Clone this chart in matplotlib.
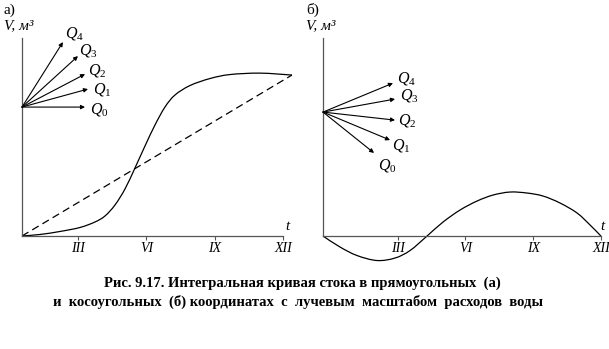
import matplotlib
matplotlib.use('Agg')
import matplotlib.pyplot as plt
from matplotlib.path import Path
from matplotlib.patches import PathPatch

W, H = 609, 349
plt.rcParams['font.family'] = ['Liberation Serif', 'DejaVu Serif']
plt.rcParams['mathtext.fontset'] = 'custom'
plt.rcParams['mathtext.it'] = 'Liberation Serif:italic'
plt.rcParams['mathtext.rm'] = 'Liberation Serif'

tick_months = [3, 6, 9, 12]
tick_labels = ['III', 'VI', 'IX', 'XII']

# panel a: integral curve in rectangular coordinates (V, relative units)
a_t = [0.544, 1.333, 2.211, 3.088, 3.746, 4.184, 4.623, 5.061, 5.500, 5.939,
       6.377, 6.816, 7.254, 7.912, 8.789, 9.667, 10.982, 12.386]
a_V = [0, 0.93, 2.80, 5.28, 8.70, 12.42, 19.25, 29.19, 42.24, 55.90,
       68.94, 80.12, 87.58, 93.48, 97.83, 100.31, 101.2, 100]
a_mean_t = [0.544, 12.386]
a_mean_V = [0, 100]
a_ray_origin = (0.544, 80.1)
a_ray_end_t = [3.31, 3.44, 3.31, 3.0, 2.34]
a_ray_end_V = [80.1, 91.3, 100.6, 111.8, 120.5]
a_lab_t = [3.53, 3.66, 3.44, 3.04, 2.43]
a_lab_V = [78.9, 91.3, 103.1, 115.5, 126.1]

# panel b: integral curve in oblique coordinates
b_t = [-0.31, 0.443, 1.196, 2.082, 2.880, 3.545, 4.298, 5.007, 5.760, 6.513,
       7.222, 7.975, 8.728, 9.437, 10.190, 10.944, 11.520, 12.0]
b_V = [0, -6.83, -12.11, -15.22, -13.66, -9.01, 0, 8.70, 16.15, 21.74,
       25.46, 27.33, 26.71, 24.84, 20.50, 14.29, 6.83, 0]
b_ray_origin = (-0.31, 77)
b_ray_end_t = [1.95, 2.66, 2.88, 2.88, 2.79]
b_ray_end_V = [51.6, 59.6, 72, 85.1, 95]
b_lab_t = [2.13, 2.75, 3.01, 3.10, 2.97]
b_lab_V = [44.1, 56.5, 72, 87, 98.1]

q_names = ['$Q_{\\mathit{0}}$', '$Q_{\\mathit{1}}$', '$Q_{\\mathit{2}}$',
           '$Q_{\\mathit{3}}$', '$Q_{\\mathit{4}}$']

caption1 = 'Рис. 9.17. Интегральная кривая стока в прямоугольных  (а)'
caption2 = 'и  косоугольных  (б) координатах  с  лучевым  масштабом  расходов  воды'

fig = plt.figure(figsize=(W / 100, H / 100), dpi=100)


def make_axes(x0, y0, x1, y1):
    return fig.add_axes([x0 / W, 1 - y1 / H, (x1 - x0) / W, (y1 - y0) / H])


def style(ax, xmin, xmax, vtop):
    for s in ['top', 'right']:
        ax.spines[s].set_visible(False)
    for s in ['left', 'bottom']:
        ax.spines[s].set_color('#555555')
        ax.spines[s].set_linewidth(0.9)
        ax.spines[s].set_position(('data', 0) if s == 'bottom' else ('data', xmin))
    ax.spines['left'].set_bounds(0, vtop)
    ax.spines['bottom'].set_bounds(xmin, xmax)
    ax.set_yticks([])
    ax.set_xticks(tick_months)
    ax.set_xticklabels(tick_labels, fontstyle='italic', fontsize=10)
    ax.tick_params(axis='x', direction='out', length=3, width=0.8,
                   color='#555555', pad=1.0)
    ax.patch.set_alpha(0)


def smooth_curve(ax, xs, ys, **kw):
    # Catmull-Rom spline through the read points, as cubic Bezier path
    pts = list(zip(xs, ys))
    verts = [pts[0]]
    codes = [Path.MOVETO]
    n = len(pts)
    for i in range(n - 1):
        p0 = pts[i - 1] if i > 0 else pts[i]
        p1 = pts[i]
        p2 = pts[i + 1]
        p3 = pts[i + 2] if i + 2 < n else pts[i + 1]
        c1 = (p1[0] + (p2[0] - p0[0]) / 6, p1[1] + (p2[1] - p0[1]) / 6)
        c2 = (p2[0] - (p3[0] - p1[0]) / 6, p2[1] - (p3[1] - p1[1]) / 6)
        verts += [c1, c2, p2]
        codes += [Path.CURVE4] * 3
    patch = PathPatch(Path(verts, codes), facecolor='none', clip_on=False, **kw)
    ax.add_patch(patch)


def rays(ax, origin, et, eV, lt, lV):
    for i in range(5):
        ax.annotate('', xy=(et[i], eV[i]), xytext=origin,
                    arrowprops=dict(arrowstyle='-|>', lw=0.8, color='black',
                                    mutation_scale=6, shrinkA=0, shrinkB=0))
        ax.text(lt[i], lV[i], q_names[i], fontsize=11.5, ha='left', va='center')


# panel a
axa = make_axes(22, 30, 300, 240)
axa.set_xlim(0.544, 12.74)
axa.set_ylim(-2.5, 128)
style(axa, 0.544, 12.0, 123)
smooth_curve(axa, a_t, a_V, edgecolor='black', lw=0.9)
ln, = axa.plot(a_mean_t, a_mean_V, color='black', lw=0.9, clip_on=False)
ln.set_dashes([6, 3.5])
rays(axa, a_ray_origin, a_ray_end_t, a_ray_end_V, a_lab_t, a_lab_V)

# panel b
axb = make_axes(323, 30, 605, 265)
axb.set_xlim(-0.31, 12.18)
axb.set_ylim(-18, 128)
style(axb, -0.31, 12.0, 123)
smooth_curve(axb, b_t, b_V, edgecolor='black', lw=0.9)
rays(axb, b_ray_origin, b_ray_end_t, b_ray_end_V, b_lab_t, b_lab_V)

# texts
def ftext(x, y, s, **kw):
    fig.text(x / W, 1 - y / H, s, **kw)

ftext(4, 10, 'а)', fontsize=11, ha='left', va='center')
ftext(306, 10, 'б)', fontsize=11, ha='left', va='center')
ftext(4, 26, 'V, м³', fontsize=11, fontstyle='italic', ha='left', va='center')
ftext(306, 26, 'V, м³', fontsize=11, fontstyle='italic', ha='left', va='center')
ftext(287, 226, 't', fontsize=11, fontstyle='italic', ha='center', va='center')
ftext(602, 227, 't', fontsize=11, fontstyle='italic', ha='center', va='center')
ftext(302, 283, caption1, fontsize=10.5, fontweight='bold', ha='center', va='center')
ftext(298, 302, caption2, fontsize=10.5, fontweight='bold', ha='center', va='center')

fig.savefig('out.png', dpi=100)
